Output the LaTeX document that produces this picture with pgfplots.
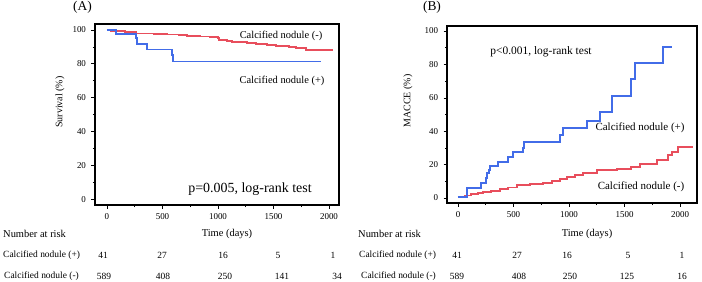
\documentclass[border=0pt]{standalone}
\usepackage{fontspec}
\setmainfont{Liberation Serif}
\usepackage{pgfplots}
\pgfplotsset{compat=1.18}

\definecolor{kmblue}{RGB}{66,108,232}
\definecolor{kmred}{RGB}{232,78,92}

\newcommand{\fs}[1]{\fontsize{#1}{#1}\selectfont}

\pgfplotsset{
  kmaxis/.style={
    scale only axis,
    anchor=south west,
    axis line style={line width=1.8pt},
    tick align=outside,
    xtick pos=bottom, ytick pos=left,
    tick style={black, line width=0.6pt},
    major tick length=3.5bp, minor tick length=2bp,
    xtick={0,500,1000,1500,2000},
    ytick={0,20,40,60,80,100},
    minor x tick num=1, minor y tick num=1,
    ticklabel style={font=\fs{9}},
    /pgf/number format/assume math mode=true,
    /pgf/number format/1000 sep={},
    xticklabel style={yshift=-1.5bp},
    yticklabel style={xshift=-2bp},
    every axis plot/.append style={line width=1.9pt, const plot, mark=none},
    clip=false,
  }
}

\begin{document}
\begin{tikzpicture}
\useasboundingbox (0,0) rectangle (702bp,282bp);

% ---------------- (A) survival ----------------
\begin{axis}[kmaxis, at={(95bp,77bp)}, width=244bp, height=181bp,
  xmin=-108, xmax=2090, ymin=-3.5, ymax=103.5]
\addplot[kmred] coordinates {
  (0,100) (40,99.6) (90,99.2) (160,98.9) (250,98.6) (265,97.9) (420,97.6)
  (540,97.3) (650,96.9) (720,96.5) (840,96.1) (930,95.7) (1000,95.0)
  (1010,94.3) (1080,93.6) (1130,93.1) (1260,92.4) (1340,91.8) (1440,91.0)
  (1520,90.6) (1640,89.9) (1700,89.5) (1790,88.0) (2040,88.0)};
\addplot[kmblue] coordinates {
  (0,100) (81,97.6) (258,95.1) (272,91.7) (362,88.4) (583,85.2) (594,81.3)
  (1930,81.3)};
\draw[line width=1.8pt] (rel axis cs:0,0) rectangle (rel axis cs:1,1);
\end{axis}

% ---------------- (B) MACCE ----------------
\begin{axis}[kmaxis, at={(447bp,79bp)}, width=250bp, height=177bp,
  xmin=-99, xmax=2153, ymin=-3, ymax=103]
\addplot[kmred] coordinates {
  (0,0.8) (60,1.5) (120,2.2) (180,2.8) (228,3.4) (300,4.4) (378,5.2)
  (450,6.3) (529,7.6) (650,8.5) (769,9.2) (850,10.4) (920,11.5) (979,12.4)
  (1050,14.0) (1129,15.2) (1249,16.8) (1429,17.4) (1560,18.4) (1640,20.2)
  (1790,22.8) (1895,25.7) (1925,27.7) (1985,30.7) (2120,30.7)};
\addplot[kmblue] coordinates {
  (0,0.8) (80,5.8) (205,8.8) (250,11.8) (265,14.8) (280,16.8) (290,19.2)
  (357,21.8) (447,24.7) (498,27.3) (583,29.7) (595,33.7) (915,37.7)
  (943,41.7) (1165,46.3) (1279,51.3) (1390,61.3) (1559,71.1) (1595,81.0)
  (1850,90.6) (1925,90.6)};
\draw[line width=1.8pt] (rel axis cs:0,0) rectangle (rel axis cs:1,1);
\end{axis}

% panel letters
\node[font=\fs{13.5}] at (82.5bp,275bp) {(A)};
\node[font=\fs{13.5}] at (432bp,275bp) {(B)};

% axis titles
\node[font=\fs{10}, rotate=90] at (60bp,180bp) {Survival (\%)};
\node[font=\fs{10}, rotate=90] at (408bp,181bp) {MACCE (\%)};
\node[font=\fs{10.5}] at (227bp,48bp) {Time (days)};
\node[font=\fs{10.5}] at (587bp,48bp) {Time (days)};

% labels inside the panels
\node[font=\fs{10.5}] at (281bp,246bp) {Calcified nodule (-)};
\node[font=\fs{10.5}] at (282bp,201bp) {Calcified nodule (+)};
\node[font=\fs{14}] at (250bp,93bp) {p=0.005, log-rank test};
\node[font=\fs{11.5}] at (541bp,230bp) {p<0.001, log-rank test};
\node[font=\fs{11}] at (640bp,154bp) {Calcified nodule (+)};
\node[font=\fs{11}] at (641bp,95bp) {Calcified nodule (-)};

% numbers at risk, panel A
\node[font=\fs{10.5}, anchor=west, inner sep=0pt] at (3bp,48bp) {Number at risk};
\node[font=\fs{9.5}, anchor=west, inner sep=0pt] at (3bp,27bp) {Calcified nodule (+)};
\node[font=\fs{9.5}, anchor=west, inner sep=0pt] at (4bp,6bp) {Calcified nodule (-)};
\foreach \x/\n in {103/41, 162/27, 223/16, 278/5, 333/1}
  \node[font=\fs{9.5}] at (\x bp,27bp) {\n};
\foreach \x/\n in {104/589, 163/408, 225/250, 282/141, 337/34}
  \node[font=\fs{9.5}] at (\x bp,6bp) {\n};

% numbers at risk, panel B
\node[font=\fs{10.5}, anchor=west, inner sep=0pt] at (358bp,48bp) {Number at risk};
\node[font=\fs{9.5}, anchor=west, inner sep=0pt] at (359bp,27bp) {Calcified nodule (+)};
\node[font=\fs{9.5}, anchor=west, inner sep=0pt] at (361bp,6bp) {Calcified nodule (-)};
\foreach \x/\n in {457/41, 517/27, 567/16, 628/5, 682/1}
  \node[font=\fs{9.5}] at (\x bp,27bp) {\n};
\foreach \x/\n in {457/589, 519/408, 570/250, 627/125, 682/16}
  \node[font=\fs{9.5}] at (\x bp,6bp) {\n};
\end{tikzpicture}
\end{document}
